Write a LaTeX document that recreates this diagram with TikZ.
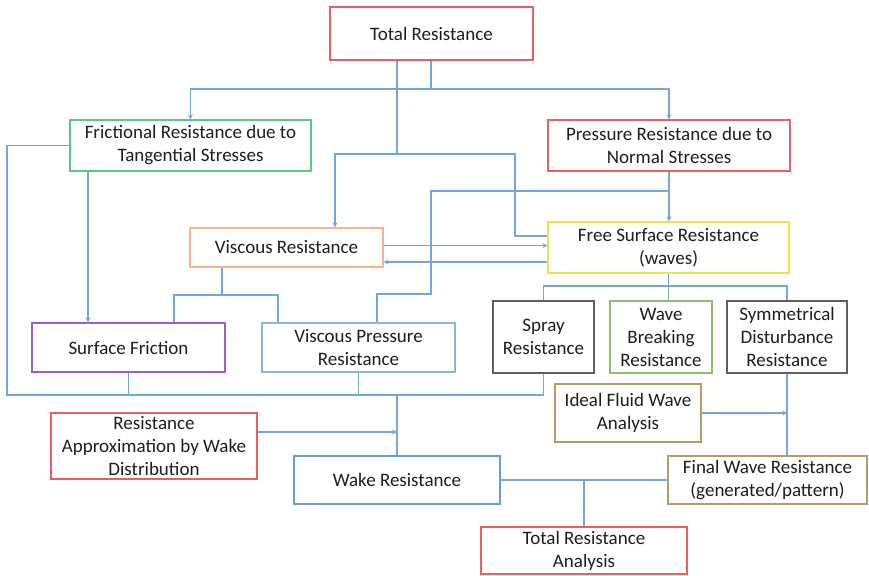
\documentclass[tikz,border=0pt]{standalone}
\usepackage{fontspec}
\setmainfont{Carlito}
\usetikzlibrary{arrows.meta}
\definecolor{cline}{RGB}{115,165,222}
\definecolor{cred}{RGB}{232,96,96}
\definecolor{cgreen}{RGB}{90,200,130}
\definecolor{corange}{RGB}{248,180,140}
\definecolor{cyellow}{RGB}{238,228,70}
\definecolor{cpurple}{RGB}{160,90,210}
\definecolor{cblue}{RGB}{140,180,225}
\definecolor{cgray}{RGB}{95,95,95}
\definecolor{cwgreen}{RGB}{140,190,110}
\definecolor{ctan}{RGB}{180,155,100}
\definecolor{cwake}{RGB}{105,155,212}
\definecolor{ctext}{RGB}{30,30,30}
\begin{document}
\begin{tikzpicture}[x=1pt,y=-1pt,
  box/.style={draw, line width=1.3pt, fill=white, inner sep=0pt, align=center,
    text=ctext, font=\fontsize{19}{23}\selectfont},
  conn/.style={draw=cline, line width=1.2pt},
  arr/.style={conn, -{Stealth[length=5pt,width=5pt]}}]
\useasboundingbox (0,0) rectangle (869,575);
% nodes
\node[box, draw=cred, minimum width=203pt, minimum height=53pt] (tot) at (431.5,33.5) {Total Resistance};
\node[box, draw=cgreen, minimum width=241pt, minimum height=51pt] (fric) at (190.5,145.5) {Frictional Resistance due to\\Tangential Stresses};
\node[box, draw=cred, minimum width=242pt, minimum height=51pt] (pres) at (669,145.5) {Pressure Resistance due to\\Normal Stresses};
\node[box, draw=corange, minimum width=193pt, minimum height=39pt] (visc) at (286.5,247.5) {Viscous Resistance};
\node[box, draw=cyellow, minimum width=241pt, minimum height=51pt] (free) at (668.5,247.5) {Free Surface Resistance\\(waves)};
\node[box, draw=cpurple, minimum width=193pt, minimum height=49pt] (surf) at (128.5,347.5) {Surface Friction};
\node[box, draw=cblue, minimum width=193pt, minimum height=49pt] (vpr) at (358.5,347.5) {Viscous Pressure\\Resistance};
\node[box, draw=cgray, minimum width=101pt, minimum height=72pt] (spray) at (543.5,337) {Spray\\Resistance};
\node[box, draw=cwgreen, minimum width=102pt, minimum height=72pt] (wbr) at (661,337) {Wave\\Breaking\\Resistance};
\node[box, draw=cgray, minimum width=120pt, minimum height=72pt] (sym) at (787,337) {Symmetrical\\Disturbance\\Resistance};
\node[box, draw=ctan, minimum width=146pt, minimum height=58pt] (ideal) at (628,413) {Ideal Fluid Wave\\Analysis};
\node[box, draw=cred, minimum width=206pt, minimum height=66pt] (approx) at (154,446) {Resistance\\Approximation by Wake\\Distribution};
\node[box, draw=cwake, minimum width=206pt, minimum height=48pt] (wake) at (397,480) {Wake Resistance};
\node[box, draw=ctan, minimum width=199pt, minimum height=48pt] (final) at (767.5,480) {Final Wave Resistance\\(generated/pattern)};
\node[box, draw=cred, minimum width=206pt, minimum height=47pt] (tra) at (584,550.5) {Total Resistance\\Analysis};
% junction coordinates
\coordinate (jA) at (397,154);
\coordinate (jB) at (515,236);
\coordinate (jC) at (431,89);
\coordinate (jD) at (669,191);
\coordinate (jE) at (431,294);
\coordinate (jF) at (222,295);
\coordinate (jG) at (397,395);
\coordinate (jH) at (668.5,286);
\coordinate (c7) at (7,395);
\coordinate (x335) at (335,0);
\coordinate (x377) at (377,0);
\coordinate (x174) at (174,0);
\coordinate (x278) at (278,0);
\coordinate (x88) at (88,0);
% connectors
\draw[conn] (tot.south -| jA) -- (jA);
\draw[arr] (jA) -| (visc.north -| x335);
\draw[conn] (jA) -| (jB) -- (free.west |- jB);
\draw[conn] (tot.south -| jC) -- (jC);
\draw[arr] (jC) -| (fric.north);
\draw[arr] (jC) -| (pres.north);
\draw[arr] (pres.south) -- (pres.south |- free.north);
\draw[conn] (jD) -| (jE) -| (vpr.north -| x377);
\draw[arr] ([yshift=2pt]visc.east) -- ([yshift=2pt]visc.east -| free.west);
\draw[arr] ([yshift=-14.5pt]free.west) -- ([yshift=-14.5pt]free.west -| visc.east);
\draw[conn] (visc.south -| jF) -- (jF);
\draw[conn] (jF) -| (surf.north -| x174);
\draw[conn] (jF) -| (vpr.north -| x278);
\draw[arr] (fric.south -| x88) -- (surf.north -| x88);
\draw[conn] (fric.west) -| (c7) -| (spray.south);
\draw[conn] (surf.south) -- (surf.south |- c7);
\draw[conn] (vpr.south) -- (vpr.south |- c7);
\draw[conn] (jG) -- (wake.north);
\draw[arr] ([yshift=14pt]approx.east) -- ([yshift=14pt]approx.east -| wake.north);
\draw[conn] (free.south) -- (jH);
\draw[conn] (jH) -| (spray.north);
\draw[conn] (jH) -| (sym.north);
\draw[conn] (jH) -- (wbr.north -| jH);
\draw[conn] (sym.south) -- (sym.south |- final.north);
\draw[arr] (ideal.east) -- (ideal.east -| sym.south);
\draw[conn] (wake.east) -- (final.west);
\draw[conn] (wake.east -| tra.north) -- (tra.north);
\end{tikzpicture}
\end{document}
